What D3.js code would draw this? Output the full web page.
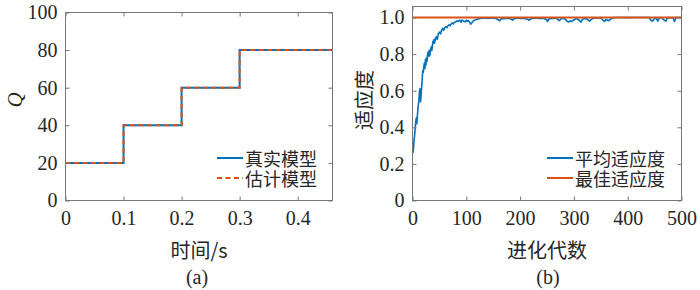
<!DOCTYPE html>
<html>
<head>
<meta charset="utf-8">
<script src="https://cdn.jsdelivr.net/npm/d3@7"></script>
<style>
  body { margin: 0; background: #fff; }
  svg text { fill: #262626; }
</style>
</head>
<body>
<div id="chart"></div>
<script>
// (a) 阶跃模型
const stepTime = [0, 0.1, 0.2, 0.3, 0.46];
const trueQ = [20, 40, 60, 80, 80];
const estQ = [20, 40, 60, 80, 80];
const aXTicks = [0, 0.1, 0.2, 0.3, 0.4];
const aYTicks = [0, 20, 40, 60, 80, 100];

// (b) 进化过程
const avgGen = [1, 3, 4, 6, 7, 8, 10, 12, 13, 14, 15, 16, 17, 18, 19, 20, 21, 22, 23, 24, 25, 26, 27, 28, 29, 30,
  31, 32, 34, 35, 36, 38, 39, 40, 41, 43, 45, 46, 48, 50, 52, 54, 56, 58, 60, 62, 64, 66, 68, 70, 72, 74, 76, 78,
  80, 82, 85, 88, 90, 92, 95, 98, 100, 102, 104, 106, 108, 110, 112, 114, 117, 120, 123, 126, 130, 135, 140, 145,
  150, 155, 158, 160, 162, 164, 166, 170, 175, 180, 184, 186, 188, 192, 196, 200, 205, 210, 214, 217, 220, 225,
  230, 235, 240, 245, 249, 251, 253, 258, 262, 266, 270, 273, 276, 280, 284, 287, 290, 293, 296, 299, 302, 305,
  310, 313, 316, 320, 325, 329, 332, 336, 340, 345, 350, 354, 357, 360, 364, 368, 372, 380, 390, 400, 410, 420,
  430, 440, 443, 446, 449, 452, 456, 459, 463, 468, 471, 474, 480, 484, 487, 490, 495, 500];
const avgFit = [0.26, 0.33, 0.36, 0.43, 0.45, 0.42, 0.50, 0.55, 0.60, 0.61, 0.54, 0.58, 0.62, 0.66, 0.71, 0.70,
  0.73, 0.75, 0.72, 0.77, 0.74, 0.78, 0.76, 0.80, 0.81, 0.79, 0.82, 0.79, 0.83, 0.84, 0.82, 0.87, 0.86, 0.88, 0.86,
  0.89, 0.895, 0.88, 0.91, 0.92, 0.91, 0.93, 0.94, 0.93, 0.945, 0.95, 0.945, 0.955, 0.96, 0.955, 0.965, 0.97,
  0.965, 0.975, 0.975, 0.98, 0.98, 0.985, 0.975, 0.986, 0.98, 0.977, 0.985, 0.98, 0.982, 0.975, 0.964, 0.97,
  0.978, 0.983, 0.987, 0.99, 0.993, 0.995, 0.996, 0.997, 0.995, 0.997, 0.996, 0.994, 0.99, 0.985, 0.982, 0.99,
  0.995, 0.993, 0.996, 0.994, 0.99, 0.985, 0.992, 0.995, 0.997, 0.995, 0.996, 0.993, 0.99, 0.985, 0.993, 0.996,
  0.997, 0.995, 0.996, 0.994, 0.988, 0.978, 0.99, 0.996, 0.995, 0.997, 0.99, 0.982, 0.993, 0.996, 0.99, 0.98,
  0.975, 0.982, 0.978, 0.985, 0.99, 0.995, 0.985, 0.975, 0.99, 0.995, 0.99, 0.98, 0.988, 0.996, 0.998, 0.997,
  0.999, 0.985, 0.978, 0.99, 0.982, 0.99, 0.998, 1.0, 1.0, 0.999, 1.0, 1.0, 1.0, 1.0, 0.985, 0.98, 0.99, 1.0,
  0.98, 1.0, 0.998, 0.985, 0.98, 1.0, 0.998, 1.0, 0.978, 1.0, 1.0, 1.0];
const bestGen = [1, 500];
const bestFit = [1.0, 1.0];
const bXTicks = [0, 100, 200, 300, 400, 500];
const bYTicks = [0, 0.2, 0.4, 0.6, 0.8, 1.0];

const BLUE = '#0072BD';
const ORANGE = '#D95319';
const AXIS = '#777';
const SERIF = '"Liberation Serif", "Times New Roman", serif';
const CJK = '"Noto Sans CJK SC", sans-serif';

const svg = d3.select('#chart').append('svg')
  .attr('width', 700)
  .attr('height', 290);

// 坐标框 + 内向刻度（四边）
function drawFrame(g, x, y, xTicks, yTicks, xFmt, yFmt) {
  const [x0, x1] = x.range();
  const [y0, y1] = y.range();
  const tl = 4;

  const axes = [
    g.append('g')
      .attr('transform', `translate(0,${y0})`)
      .call(d3.axisBottom(x).tickValues(xTicks).tickFormat(xFmt).tickSizeInner(-tl).tickSizeOuter(0).tickPadding(10)),
    g.append('g')
      .attr('transform', `translate(0,${y1})`)
      .call(d3.axisTop(x).tickValues(xTicks).tickFormat('').tickSizeInner(-tl).tickSizeOuter(0)),
    g.append('g')
      .attr('transform', `translate(${x0},0)`)
      .call(d3.axisLeft(y).tickValues(yTicks).tickFormat(yFmt).tickSizeInner(-tl).tickSizeOuter(0).tickPadding(8)),
    g.append('g')
      .attr('transform', `translate(${x1},0)`)
      .call(d3.axisRight(y).tickValues(yTicks).tickFormat('').tickSizeInner(-tl).tickSizeOuter(0))
  ];

  axes.forEach(a => {
    a.attr('font-family', SERIF).attr('font-size', 20);
    a.select('.domain').remove();
    a.selectAll('.tick line').attr('stroke', AXIS);
    a.selectAll('.tick text').attr('fill', '#262626');
  });

  g.append('rect')
    .attr('x', x0).attr('y', y1)
    .attr('width', x1 - x0).attr('height', y0 - y1)
    .attr('fill', 'none')
    .attr('stroke', AXIS)
    .attr('stroke-width', 1);
}

function drawLegend(g, x, y, items) {
  items.forEach((it, i) => {
    const yy = y + i * 20;
    g.append('line')
      .attr('x1', x).attr('x2', x + 26)
      .attr('y1', yy).attr('y2', yy)
      .attr('stroke', it.color)
      .attr('stroke-width', 2)
      .attr('stroke-dasharray', it.dash || null);
    g.append('text')
      .attr('x', x + 28).attr('y', yy)
      .attr('dominant-baseline', 'central')
      .style('font-family', CJK)
      .style('font-size', '18px')
      .text(it.label);
  });
}

// ---------- (a) ----------
const ga = svg.append('g');
const xa = d3.scaleLinear().domain([0, 0.46]).range([65.5, 332.5]);
const ya = d3.scaleLinear().domain([0, 100]).range([200.5, 12.5]);

const stepLine = vals => d3.line()
  .x((d, i) => xa(stepTime[i]))
  .y(d => ya(d))
  .curve(d3.curveStepAfter)(vals);

ga.append('path')
  .attr('d', stepLine(trueQ))
  .attr('fill', 'none')
  .attr('stroke', BLUE)
  .attr('stroke-width', 2);
ga.append('path')
  .attr('d', stepLine(estQ))
  .attr('fill', 'none')
  .attr('stroke', ORANGE)
  .attr('stroke-width', 2)
  .attr('stroke-dasharray', '5,3.5');

drawFrame(ga, xa, ya, aXTicks, aYTicks, d => d === 0 ? '0' : d3.format('.1f')(d), d3.format('d'));

drawLegend(ga, 217, 158, [
  { label: '真实模型', color: BLUE },
  { label: '估计模型', color: ORANGE, dash: '5,3.5' }
]);

ga.append('text')
  .attr('transform', 'translate(15,100) rotate(-90)')
  .attr('text-anchor', 'middle')
  .attr('dominant-baseline', 'central')
  .style('font-family', SERIF)
  .style('font-style', 'italic')
  .style('font-size', '21px')
  .text('Q');
ga.append('text')
  .attr('x', 199).attr('y', 249)
  .attr('text-anchor', 'middle')
  .attr('dominant-baseline', 'central')
  .style('font-family', CJK)
  .style('font-size', '20px')
  .text('时间/s');
ga.append('text')
  .attr('x', 197).attr('y', 277)
  .attr('text-anchor', 'middle')
  .attr('dominant-baseline', 'central')
  .style('font-family', SERIF)
  .style('font-size', '20px')
  .text('(a)');

// ---------- (b) ----------
const gb = svg.append('g');
const xb = d3.scaleLinear().domain([0, 500]).range([412.5, 681.5]);
const yb = d3.scaleLinear().domain([0, 1.06]).range([200.5, 6.5]);

gb.append('path')
  .attr('d', d3.line().x((d, i) => xb(avgGen[i])).y(d => yb(d))(avgFit))
  .attr('fill', 'none')
  .attr('stroke', BLUE)
  .attr('stroke-width', 1.6)
  .attr('stroke-linejoin', 'round');
gb.append('path')
  .attr('d', d3.line().x((d, i) => xb(bestGen[i])).y(d => yb(d))(bestFit))
  .attr('fill', 'none')
  .attr('stroke', ORANGE)
  .attr('stroke-width', 2);

drawFrame(gb, xb, yb, bXTicks, bYTicks, d3.format('d'), d => d === 0 ? '0' : d3.format('.1f')(d));

drawLegend(gb, 547, 158, [
  { label: '平均适应度', color: BLUE },
  { label: '最佳适应度', color: ORANGE }
]);

gb.append('text')
  .attr('transform', 'translate(363,100) rotate(-90)')
  .attr('text-anchor', 'middle')
  .attr('dominant-baseline', 'central')
  .style('font-family', CJK)
  .style('font-size', '20px')
  .text('适应度');
gb.append('text')
  .attr('x', 547).attr('y', 249)
  .attr('text-anchor', 'middle')
  .attr('dominant-baseline', 'central')
  .style('font-family', CJK)
  .style('font-size', '20px')
  .text('进化代数');
gb.append('text')
  .attr('x', 548).attr('y', 277)
  .attr('text-anchor', 'middle')
  .attr('dominant-baseline', 'central')
  .style('font-family', SERIF)
  .style('font-size', '20px')
  .text('(b)');
</script>
</body>
</html>
